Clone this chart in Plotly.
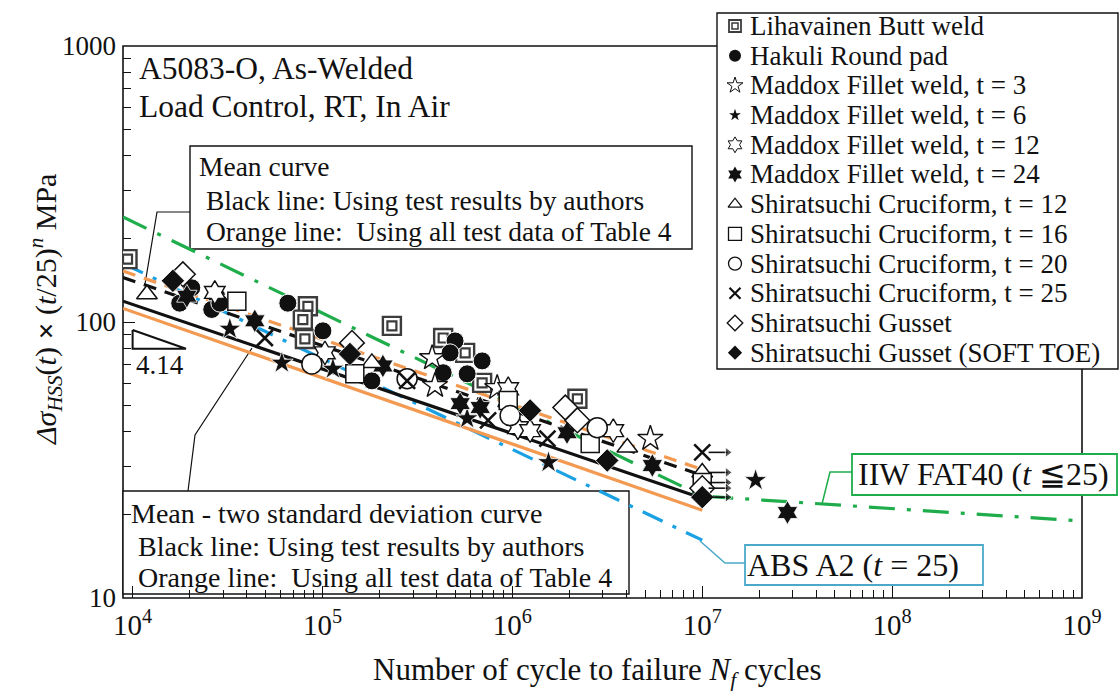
import math
import plotly.graph_objects as go

# ---------------- fatigue test data: cycles to failure N, stress range S (MPa) ----------------
liha_N = [9400, 83800, 78800, 80800, 232000, 432000, 564000, 693000, 2.2e6]
liha_S = [169, 114, 102, 86.8, 96.8, 87.5, 77.3, 60.2, 52.7]

hakuli_N = [17700, 20500, 27700, 26100, 28800, 65700, 100500, 182000, 499000, 470000, 432000, 693000, 578000]
hakuli_S = [117, 133, 124, 111, 117, 117, 92.9, 61.2, 85.4, 77.3, 65.5, 72.3, 64.9]

mad3_N = [378000, 391000, 832000, 5.33e6]
mad3_S = [74.1, 58.8, 57.8, 37.8]

mad6_N = [32500, 61100, 113500, 578000, 1.55e6, 1.91e7]
mad6_S = [94.4, 71.1, 67.6, 44.7, 31.0, 26.7]

mad12_N = [27100, 103000, 951000, 1.07e6, 1.24e6, 3.40e6]
mad12_S = [128, 77.3, 57.3, 41.4, 40.4, 40.4]

mad24_N = [19300, 44000, 208000, 531000, 677000, 1.94e6, 5.46e6, 2.81e7]
mad24_S = [124, 101, 69.3, 50.6, 49.0, 39.7, 30.2, 20.4]

cru12_N = [11900, 182000, 4.03e6, 1e7]
cru12_S = [126, 71.1, 35.1, 28.5]

cru16_N = [35400, 148000, 951000, 2.57e6, 1e7]
cru16_S = [119, 64.9, 51.9, 36.3, 26.2]

cru20_N = [87900, 279000, 973000, 2.80e6]
cru20_S = [70.5, 62.3, 45.8, 41.4]

cru25_N = [49700, 279000, 745000, 1.53e6, 1e7]
cru25_S = [87.5, 61.2, 44.0, 37.8, 33.7]

gus_N = [18400, 143000, 1.90e6, 2.20e6, 1e7]
gus_S = [149, 84.0, 49.0, 44.0, 25.0]

soft_N = [16300, 139500, 1.24e6, 3.16e6, 1e7]
soft_S = [141, 76.6, 47.8, 31.5, 23.2]

# indices of run-out specimens (no failure) in each series
cru12_runout = [3]
cru16_runout = [4]
cru25_runout = [4]
gus_runout = [4]
soft_runout = [4]

# ---------------- design / regression curves ----------------
fat40_N = [8900, 1e7, 1e9]
fat40_S = [240, 23.4, 19.0]

absa2_N = [8900, 1e7]
absa2_S = [163, 16.2]

curve_N = [8900, 1e7]
mean_auth_S = [145, 27.8]
mean_all_S = [153, 29.2]
m2sd_auth_S = [119, 23.0]
m2sd_all_S = [112, 20.8]

slope_m = 4.14
slope_N = [1e4, 1e4, 1.91e4, 1e4]
slope_S = [93.5, 80, 80, 93.5]

x_ticks = [1e4, 1e5, 1e6, 1e7, 1e8, 1e9]
x_ticktext = ["10<sup>4</sup>", "10<sup>5</sup>", "10<sup>6</sup>", "10<sup>7</sup>",
              "10<sup>8</sup>", "10<sup>9</sup>"]
y_ticks = [10, 100, 1000]
y_ticktext = ["10", "100", "1000"]

legend_labels = [
    "Lihavainen Butt weld",
    "Hakuli Round pad",
    "Maddox Fillet weld, t = 3",
    "Maddox Fillet weld, t = 6",
    "Maddox Fillet weld, t = 12",
    "Maddox Fillet weld, t = 24",
    "Shiratsuchi Cruciform, t = 12",
    "Shiratsuchi Cruciform, t = 16",
    "Shiratsuchi Cruciform, t = 20",
    "Shiratsuchi Cruciform, t = 25",
    "Shiratsuchi Gusset",
    "Shiratsuchi Gusset (SOFT TOE)",
]

# ---------------- styling ----------------
FONT = "Liberation Serif"
W, H = 1120, 691
PL, PT, PR, PB = 123, 46, 1082, 598      # plot-area edges in pixels
GREEN = "#1fad4c"
BLUE = "#1aa1e4"
ORANGE = "#f39a52"
BOXBLUE = "#4aa9c9"
INK = "#111111"
FS = 27
RUNOUT_TAIL, RUNOUT_TIP = 1.08, 1.36     # run-out arrow extent as a factor on N


def px(x):
    return x / W


def py(y):
    return 1 - y / H


fig = go.Figure()


def add_line(N, S, color, dash, width=3.2):
    fig.add_trace(go.Scatter(x=N, y=S, mode="lines", hoverinfo="skip", showlegend=False,
                             line=dict(color=color, width=width, dash=dash)))


add_line(fat40_N, fat40_S, GREEN, "26px,12px,4px,12px")
add_line(absa2_N, absa2_S, BLUE, "22px,11px,4px,11px")
add_line(curve_N, mean_all_S, ORANGE, "13px,9px")
add_line(curve_N, mean_auth_S, INK, "13px,9px")
add_line(curve_N, m2sd_all_S, ORANGE, "solid")
add_line(curve_N, m2sd_auth_S, INK, "solid")

# slope triangle
fig.add_trace(go.Scatter(x=slope_N, y=slope_S, mode="lines", hoverinfo="skip", showlegend=False,
                         line=dict(color=INK, width=2)))

# series styles: (N, S, symbol, fill, line colour, line width, size)
series = [
    (liha_N, liha_S, "square", "white", "#3c3c3c", 2.4, 18),
    (hakuli_N, hakuli_S, "circle", INK, "white", 1.0, 18),
    (mad3_N, mad3_S, "star", "white", INK, 1.4, 19),
    (mad6_N, mad6_S, "star", INK, "white", 0.8, 17),
    (mad12_N, mad12_S, "hexagram", "white", INK, 1.4, 18),
    (mad24_N, mad24_S, "hexagram", INK, "white", 0.8, 18),
    (cru12_N, cru12_S, "triangle-up", "white", INK, 1.5, 18),
    (cru16_N, cru16_S, "square", "white", INK, 1.5, 18),
    (cru20_N, cru20_S, "circle", "white", INK, 1.5, 20),
    (cru25_N, cru25_S, "x-thin", INK, INK, 2.6, 16),
    (gus_N, gus_S, "diamond", "white", INK, 1.5, 19),
    (soft_N, soft_S, "diamond", INK, "white", 0.8, 18),
]

for N, S, sym, fill, lc, lw, size in series:
    fig.add_trace(go.Scatter(x=N, y=S, mode="markers", hoverinfo="skip", showlegend=False,
                             marker=dict(symbol=sym, size=size, color=fill,
                                         line=dict(color=lc, width=lw))))
    if N is liha_N:
        # inner square of the double-square marker
        fig.add_trace(go.Scatter(x=N, y=S, mode="markers", hoverinfo="skip", showlegend=False,
                                 marker=dict(symbol="square-open", size=9, color="#3c3c3c",
                                             line=dict(width=2.2))))

# run-out arrows
for N, S, idx in [(cru25_N, cru25_S, cru25_runout), (cru12_N, cru12_S, cru12_runout),
                  (cru16_N, cru16_S, cru16_runout), (gus_N, gus_S, gus_runout),
                  (soft_N, soft_S, soft_runout)]:
    for i in idx:
        fig.add_trace(go.Scatter(
            x=[N[i] * RUNOUT_TAIL, N[i] * RUNOUT_TIP], y=[S[i], S[i]], mode="lines+markers",
            hoverinfo="skip", showlegend=False, cliponaxis=False,
            line=dict(color=INK, width=1.6),
            marker=dict(symbol=["circle", "triangle-right"], size=[0, 9], color=INK)))

# ---------------- legend (markers on a full-figure pixel subplot) ----------------
leg_x = 735
leg_rows = [26 + 29.7 * i for i in range(len(legend_labels))]
leg_styles = [
    ("square", "white", "#3c3c3c", 1.8, 12),
    ("circle", INK, INK, 0, 12),
    ("star", "white", INK, 1, 12),
    ("star", INK, INK, 0, 9),
    ("hexagram", "white", INK, 1, 12),
    ("hexagram", INK, INK, 0, 12),
    ("triangle-up", "white", INK, 1.3, 12),
    ("square", "white", INK, 1.3, 13),
    ("circle", "white", INK, 1.3, 13),
    ("x-thin", INK, INK, 2.2, 11),
    ("diamond", "white", INK, 1.3, 12),
    ("diamond", INK, INK, 0, 11),
]
for (sym, fill, lc, lw, size), ry in zip(leg_styles, leg_rows):
    fig.add_trace(go.Scatter(x=[leg_x], y=[ry], xaxis="x2", yaxis="y2", mode="markers",
                             hoverinfo="skip", showlegend=False,
                             marker=dict(symbol=sym, size=size, color=fill,
                                         line=dict(color=lc, width=lw))))
fig.add_trace(go.Scatter(x=[leg_x], y=[leg_rows[0]], xaxis="x2", yaxis="y2", mode="markers",
                         hoverinfo="skip", showlegend=False,
                         marker=dict(symbol="square-open", size=6, color="#3c3c3c",
                                     line=dict(width=1.5))))
for label, ry in zip(legend_labels, leg_rows):
    fig.add_annotation(x=px(748), y=py(ry), xref="paper", yref="paper", text=label,
                       showarrow=False, xanchor="left", yanchor="middle",
                       font=dict(family=FONT, size=FS, color=INK))

# ---------------- frames, boxes and leader lines ----------------
shapes = []


def rect(x0, y0, x1, y1, color=INK, width=1.4, fill="white"):
    shapes.append(dict(type="rect", xref="paper", yref="paper", x0=px(x0), x1=px(x1),
                       y0=py(y1), y1=py(y0), line=dict(color=color, width=width),
                       fillcolor=fill, layer="below"))


def path(points, color=INK, width=1.2):
    d = "M " + " L ".join(f"{px(x):.5f},{py(y):.5f}" for x, y in points)
    shapes.append(dict(type="path", xref="paper", yref="paper", path=d,
                       line=dict(color=color, width=width), layer="below"))


rect(PL, PT, PR, PB, fill="rgba(0,0,0,0)", width=1.6)          # plot frame
rect(717, 13, 1118, 369)                                       # legend box
rect(190, 146, 692, 249)                                       # mean curve box
rect(123, 491, 629, 594)                                       # mean - 2SD box
rect(852, 454, 1117, 495, color=GREEN, width=1.8)              # IIW label
rect(745, 545, 983, 585, color=BOXBLUE, width=1.8)             # ABS label
path([(190, 212), (157, 212), (145, 284)])
path([(188, 491), (195, 435), (252, 348)])
path([(852, 472), (830, 472), (822, 504)], color=GREEN, width=1.5)
path([(745, 563), (725, 563), (700, 541)], color=BOXBLUE, width=1.5)


def text(x, y, s, size=FS, anchor="left", angle=0):
    fig.add_annotation(x=px(x), y=py(y), xref="paper", yref="paper", text=s, showarrow=False,
                       xanchor=anchor, yanchor="middle", textangle=angle,
                       font=dict(family=FONT, size=size, color=INK))


text(137, 68, "A5083-O, As-Welded", size=31.5)
text(137, 106, "Load Control, RT, In Air", size=31.5)
text(197, 167, "Mean curve", size=27.5)
text(197, 200, " Black line: Using test results by authors", size=27.5)
text(197, 231, " Orange line:  Using all test data of Table 4", size=27.5)
text(129, 513, "Mean - two standard deviation curve", size=28)
text(129, 546, " Black line: Using test results by authors", size=28)
text(129, 577, " Orange line:  Using all test data of Table 4", size=28)
text(983, 474, "IIW FAT40 (<i>t</i> ≦25)", size=32, anchor="center")
text(853, 565, "ABS A2 (<i>t</i> = 25)", size=32, anchor="center")
text(134, 365, f"{slope_m:.2f}")
text(597, 672, "Number of cycle to failure <i>N<sub>f</sub></i> cycles", size=31, anchor="center")
text(45, 310, "<i>Δσ<sub>HSS</sub></i>(<i>t</i>) <b>×</b> (<i>t</i>/25)<sup><i>n</i></sup> MPa",
     size=30, anchor="center", angle=-90)

minor_x = [m * 10 ** k for k in range(3, 9) for m in range(2, 10)]
minor_y = [m * 10 ** k for k in range(1, 3) for m in range(2, 10)]

fig.update_layout(
    width=W, height=H,
    margin=dict(l=0, r=0, t=0, b=0),
    paper_bgcolor="white", plot_bgcolor="rgba(0,0,0,0)",
    showlegend=False,
    shapes=shapes,
    font=dict(family=FONT, color=INK),
    xaxis=dict(type="log", domain=[PL / W, PR / W], range=[math.log10(8900), 9],
               showgrid=False, zeroline=False, automargin=False,
               showline=False, ticks="inside", ticklen=12, tickwidth=1.4, tickcolor=INK,
               tickvals=x_ticks, ticktext=x_ticktext, tickfont=dict(family=FONT, size=29),
               ticklabelstandoff=7,
               minor=dict(tickvals=minor_x, ticks="inside", ticklen=8, tickwidth=1.1,
                          tickcolor=INK)),
    yaxis=dict(type="log", domain=[1 - PB / H, 1 - PT / H], range=[1, 3],
               showgrid=False, zeroline=False, showline=False, automargin=False,
               ticks="inside", ticklen=12, tickwidth=1.4, tickcolor=INK,
               tickvals=y_ticks, ticktext=y_ticktext, tickfont=dict(family=FONT, size=27),
               ticklabelstandoff=6,
               minor=dict(tickvals=minor_y, ticks="inside", ticklen=8, tickwidth=1.1,
                          tickcolor=INK)),
    xaxis2=dict(domain=[0, 1], range=[0, W], anchor="y2", visible=False),
    yaxis2=dict(domain=[0, 1], range=[H, 0], anchor="x2", visible=False),
)

fig.write_html("out.html")
